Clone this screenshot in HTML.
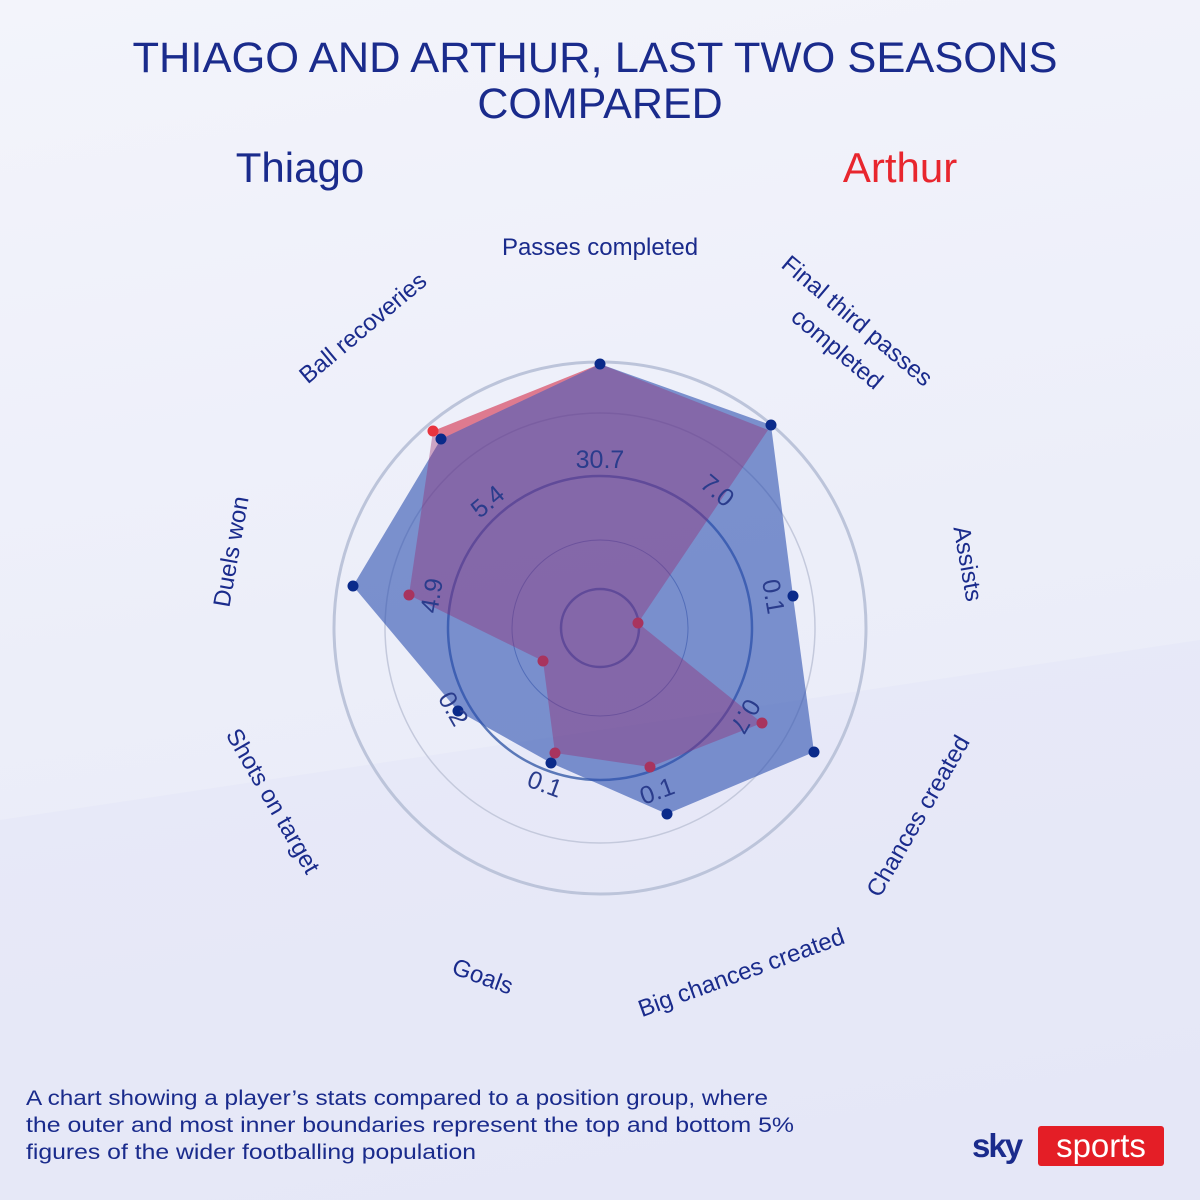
<!DOCTYPE html>
<html><head><meta charset="utf-8"><style>
body{margin:0;width:1200px;height:1200px;overflow:hidden;font-family:"Liberation Sans",sans-serif;}
.bg{position:absolute;left:0;top:0;width:1200px;height:1200px;background:linear-gradient(170deg,#f3f4fb 0%,#eceef9 50%,#e6e8f7 100%);}
</style></head><body><div class="bg"></div>
<svg width="1200" height="1200" style="position:absolute;left:0;top:0" font-family="Liberation Sans, sans-serif">
<polygon points="0,820 1200,640 1200,1200 0,1200" fill="#e4e6f6" opacity="0.6"/>
<text x="595" y="72" text-anchor="middle" font-size="43" fill="#1a2b8c" textLength="925" lengthAdjust="spacingAndGlyphs">THIAGO AND ARTHUR, LAST TWO SEASONS</text>
<text x="600" y="118" text-anchor="middle" font-size="43" fill="#1a2b8c">COMPARED</text>
<text x="300" y="182" text-anchor="middle" font-size="42" fill="#1a2b8c">Thiago</text>
<text x="900" y="182" text-anchor="middle" font-size="42" fill="#e8262e">Arthur</text>
<g fill="none">
<circle cx="600" cy="628" r="266" stroke="#bcc4da" stroke-width="3"/>
<circle cx="600" cy="628" r="215" stroke="#c4c9dc" stroke-width="1.5"/>
<circle cx="600" cy="628" r="152" stroke="#5a78b8" stroke-width="2.5"/>
<circle cx="600" cy="628" r="88" stroke="#8a98c8" stroke-width="1"/>
<circle cx="600" cy="628" r="39" stroke="#5a78b8" stroke-width="2.5"/>
</g>
<polygon points="600,364 771,425 793,596 814,752 667,814 551,763 458,711 353,586 441,439" fill="rgba(45,80,175,0.6)"/>
<polygon points="600,364 768,430 638,623 762,723 650,767 555,753 543,661 409,595 433,431" fill="rgba(150,40,110,0.38)"/>
<polygon points="600,364 441,439 433,431" fill="rgba(240,80,90,0.5)"/>
<g fill="#0a2a8a">
<circle cx="600" cy="364" r="5.5"/><circle cx="771" cy="425" r="5.5"/><circle cx="793" cy="596" r="5.5"/><circle cx="814" cy="752" r="5.5"/><circle cx="667" cy="814" r="5.5"/><circle cx="551" cy="763" r="5.5"/><circle cx="458" cy="711" r="5.5"/><circle cx="353" cy="586" r="5.5"/><circle cx="441" cy="439" r="5.5"/>
</g>
<g fill="#a8345e">
<circle cx="638" cy="623" r="5.5"/><circle cx="762" cy="723" r="5.5"/><circle cx="650" cy="767" r="5.5"/><circle cx="555" cy="753" r="5.5"/><circle cx="543" cy="661" r="5.5"/><circle cx="409" cy="595" r="5.5"/>
</g>
<circle cx="433" cy="431" r="5.5" fill="#e8343e"/>
<g font-size="25" fill="#2a3c8c" text-anchor="middle">
<text x="600" y="468">30.7</text>
<text transform="translate(712,497) rotate(40)">7.0</text>
<text transform="translate(765,598) rotate(80)">0.1</text>
<text transform="translate(738,712) rotate(120)">0.7</text>
<text transform="translate(660,799) rotate(-20)">0.1</text>
<text transform="translate(542,792) rotate(20)">0.1</text>
<text transform="translate(446,713) rotate(60)">0.2</text>
<text transform="translate(440,597) rotate(-80)">4.9</text>
<text transform="translate(493,508) rotate(-40)">5.4</text>
</g>
<g font-size="24" fill="#1a2b8c" text-anchor="middle">
<text x="600" y="255">Passes completed</text>
<text transform="translate(852,327) rotate(40)">Final third passes</text>
<text transform="translate(832,355) rotate(40)">completed</text>
<text transform="translate(960,565) rotate(80)">Assists</text>
<text transform="translate(925,820) rotate(-60)">Chances created</text>
<text transform="translate(744,980) rotate(-20)">Big chances created</text>
<text transform="translate(480,984) rotate(20)">Goals</text>
<text transform="translate(266,805) rotate(60)">Shots on target</text>
<text transform="translate(239,553) rotate(-80)">Duels won</text>
<text transform="translate(368,334) rotate(-40)">Ball recoveries</text>
</g>
<g font-size="21" fill="#1a2b8c">
<text x="26" y="1105" textLength="742" lengthAdjust="spacingAndGlyphs">A chart showing a player’s stats compared to a position group,  where</text>
<text x="26" y="1132" textLength="768" lengthAdjust="spacingAndGlyphs">the outer and most inner boundaries represent the top  and bottom 5%</text>
<text x="26" y="1159" textLength="450" lengthAdjust="spacingAndGlyphs">figures of the wider footballing population</text>
</g>
<text x="972" y="1157" font-size="33" font-weight="bold" fill="#1a2b8c" letter-spacing="-2">sky</text>
<rect x="1038" y="1126" width="126" height="40" rx="3" fill="#e41e26"/>
<text x="1101" y="1157" font-size="33" fill="#fff" text-anchor="middle">sports</text>
</svg>
</body></html>
